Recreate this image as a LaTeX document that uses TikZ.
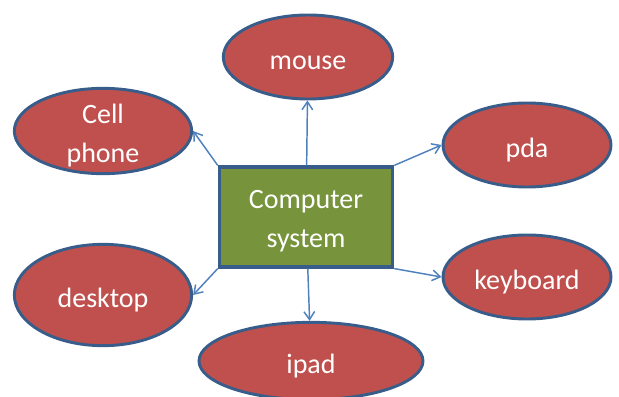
\documentclass[tikz,border=0pt]{standalone}
\usepackage{fontspec}
\setmainfont{Carlito}
\usetikzlibrary{shapes.geometric, arrows.meta, positioning}
\definecolor{devred}{RGB}{192, 80, 77}
\definecolor{sysgreen}{RGB}{119, 147, 60}
\definecolor{edgeblue}{RGB}{56, 93, 138}
\definecolor{linkblue}{RGB}{79, 129, 189}
\tikzset{
  devnode/.style={ellipse, draw=edgeblue, fill=devred, line width=2.2pt, text=white, inner sep=0pt, align=center, text height=21pt, text depth=2pt},
  sysnode/.style={rectangle, draw=edgeblue, fill=sysgreen, line width=2.4pt, text=white, inner sep=0pt, align=center, minimum width=130pt, minimum height=75pt},
  linkarrow/.style={-{Straight Barb[length=6pt, width=8pt]}, line width=1.1pt, linkblue},
}

\begin{document}
\begin{tikzpicture}[x=0.75pt, y=-0.75pt, every node/.style={font=\fontsize{21}{29}\selectfont}]
  \useasboundingbox (0,0) rectangle (619,397);
  \clip (0,0) rectangle (619,397);
  \node[sysnode, text height=48pt, text depth=3pt] (sys) at (306,217) {Computer\\system};
  \node[devnode, minimum width=127pt, minimum height=63pt] (mouse) at (308,57) {mouse};
  \node[devnode, minimum width=133pt, minimum height=64pt, text height=49.5pt, text depth=3pt, inner ysep=-5pt] (cell) at (103,131) {Cell\\phone};
  \node[devnode, minimum width=126pt, minimum height=63pt] (pda) at (527,145) {pda};
  \node[devnode, minimum width=126pt, minimum height=63pt] (kbd) at (527,277) {keyboard};
  \node[devnode, minimum width=133pt, minimum height=76pt] (desk) at (103,295) {desktop};
  \node[devnode, minimum width=168pt, minimum height=58pt] (ipad) at (311,361) {ipad};
  \foreach \t in {mouse,ipad} \draw[linkarrow] (sys)--(\t);
  \foreach \s/\t in {north west/cell.east, north east/pda.west, south west/desk.east, south east/kbd.west}
    \draw[linkarrow] (sys.\s)--(\t);
\end{tikzpicture}
\end{document}
